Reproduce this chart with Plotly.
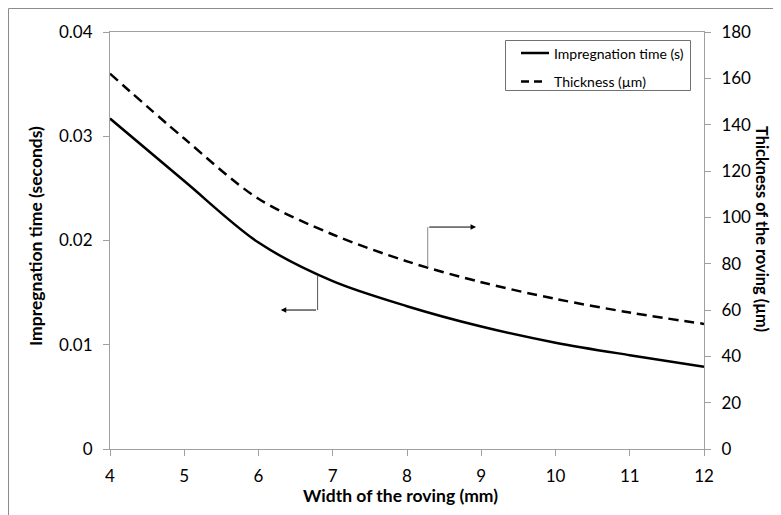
import plotly.graph_objects as go

# ---- data ----
width_mm = [4, 5, 6, 7, 8, 9, 10, 11, 12]
impregnation_time_s = [0.0317, 0.0257, 0.0198, 0.0161, 0.0137, 0.01175, 0.0102, 0.0090, 0.0079]
thickness_um = [162, 134, 108, 92.6, 81, 72, 64.8, 58.9, 54]

x_ticks = [4, 5, 6, 7, 8, 9, 10, 11, 12]
y1_ticks = [0, 0.01, 0.02, 0.03, 0.04]
y1_labels = ["0", "0.01", "0.02", "0.03", "0.04"]
y2_ticks = [0, 20, 40, 60, 80, 100, 120, 140, 160, 180]

series_names = ["Impregnation time (s)", "Thickness (µm)"]

# arrow callouts (data units): start on curve, corner, end
arrow_time = dict(x0=6.796, y0=0.01662, ycorner=0.01333, xend=6.30)
arrow_thick = dict(x0=8.279, y0=78.7, ycorner=95.8, xend=8.93)

FONT = "Lato"
AX = "#a0a0a0"
DASH = "10px,6px"

fig = go.Figure()
fig.add_trace(go.Scatter(
    x=width_mm, y=impregnation_time_s, name=series_names[0],
    mode="lines", line=dict(color="black", width=2.5, shape="spline", smoothing=0.9)))
fig.add_trace(go.Scatter(
    x=width_mm, y=thickness_um, name=series_names[1], yaxis="y2",
    mode="lines", line=dict(color="black", width=2.5, dash=DASH, shape="spline", smoothing=0.9)))

OFF = 8  # page body margin
W, H = 781, 515
L, T = 110 - OFF, 32 - OFF
pw, ph = 594, 417
R, B = W - L - pw, H - T - ph

def px2paper_x(px):
    return (px - OFF - L) / pw

def px2paper_y(py):
    return 1 - (py - OFF - T) / ph

def pline(x0, y0, x1, y1, color, width=1, dash=None):
    d = dict(color=color, width=width)
    if dash:
        d["dash"] = dash
    return dict(type="line", xref="paper", yref="paper",
                x0=px2paper_x(x0), x1=px2paper_x(x1),
                y0=px2paper_y(y0), y1=px2paper_y(y1), line=d)

shapes = [
    pline(8.5, 8.5, 8.5, 530, "#8c8c8c"),
    pline(8.5, 8.5, 790, 8.5, "#8c8c8c"),
    dict(type="line", xref="x", yref="y", x0=arrow_time["x0"], x1=arrow_time["x0"],
         y0=arrow_time["y0"], y1=arrow_time["ycorner"], line=dict(color="#555555", width=1)),
    dict(type="line", xref="x", yref="y2", x0=arrow_thick["x0"], x1=arrow_thick["x0"],
         y0=arrow_thick["y0"], y1=arrow_thick["ycorner"], line=dict(color="#888888", width=1)),
    # legend box and samples
    dict(type="rect", xref="paper", yref="paper",
         x0=px2paper_x(505.5), x1=px2paper_x(690.5), y0=px2paper_y(40.5), y1=px2paper_y(90.5),
         line=dict(color="#707070", width=1), fillcolor="white"),
    pline(521, 53, 549, 53, "black", 2.5),
    pline(521, 81.5, 542, 81.5, "black", 2.5, "8px,5px"),
]

annotations = [
    dict(x=arrow_time["xend"], y=arrow_time["ycorner"], xref="x", yref="y",
         ax=arrow_time["x0"], ay=arrow_time["ycorner"], axref="x", ayref="y",
         showarrow=True, arrowhead=2, arrowsize=1.1, arrowwidth=1, arrowcolor="black", text=""),
    dict(x=arrow_thick["xend"], y=arrow_thick["ycorner"], xref="x", yref="y2",
         ax=arrow_thick["x0"], ay=arrow_thick["ycorner"], axref="x", ayref="y2",
         showarrow=True, arrowhead=2, arrowsize=1.1, arrowwidth=1, arrowcolor="black", text=""),
    dict(text="<b>Impregnation time (seconds)</b>", xref="paper", yref="paper",
         x=px2paper_x(35), y=px2paper_y(236), textangle=-90, showarrow=False,
         font=dict(family=FONT, size=17.5, color="black"), xanchor="center", yanchor="middle"),
    dict(text="<b>Thickness of the roving (µm)</b>", xref="paper", yref="paper",
         x=px2paper_x(762), y=px2paper_y(229), textangle=90, showarrow=False,
         font=dict(family=FONT, size=16.4, color="black"), xanchor="center", yanchor="middle"),
    dict(text="<b>Width of the roving (mm)</b>", xref="paper", yref="paper",
         x=px2paper_x(400), y=px2paper_y(495), showarrow=False,
         font=dict(family=FONT, size=17.5, color="black"), xanchor="center", yanchor="middle"),
    dict(text=series_names[0], xref="paper", yref="paper",
         x=px2paper_x(552), y=px2paper_y(53), showarrow=False, xanchor="left", yanchor="middle",
         font=dict(family=FONT, size=14, color="black")),
    dict(text=series_names[1], xref="paper", yref="paper",
         x=px2paper_x(552), y=px2paper_y(81.5), showarrow=False, xanchor="left", yanchor="middle",
         font=dict(family=FONT, size=14, color="black")),
]

fig.update_layout(
    width=W, height=H, margin=dict(l=L, r=R, t=T, b=B, autoexpand=False),
    paper_bgcolor="white", plot_bgcolor="white",
    font=dict(family=FONT, size=17, color="black"),
    showlegend=False,
    xaxis=dict(range=[4, 12], tickvals=x_ticks, showgrid=False, zeroline=False,
               showline=True, linecolor=AX, linewidth=1, mirror=True,
               ticks="outside", ticklen=6, tickcolor=AX, tickfont=dict(size=17),
               ticklabelstandoff=6),
    yaxis=dict(range=[0, 0.04], tickvals=y1_ticks, ticktext=y1_labels, showgrid=False,
               zeroline=False, showline=True, linecolor=AX, linewidth=1,
               ticks="outside", ticklen=6, tickcolor=AX, tickfont=dict(size=17),
               ticklabelstandoff=7),
    yaxis2=dict(range=[0, 180], tickvals=y2_ticks, overlaying="y", side="right",
                showgrid=False, zeroline=False, showline=True, linecolor=AX, linewidth=1,
                ticks="outside", ticklen=6, tickcolor=AX, tickfont=dict(size=17),
                ticklabelstandoff=7),
    shapes=shapes, annotations=annotations,
)

fig.write_html("out.html")
